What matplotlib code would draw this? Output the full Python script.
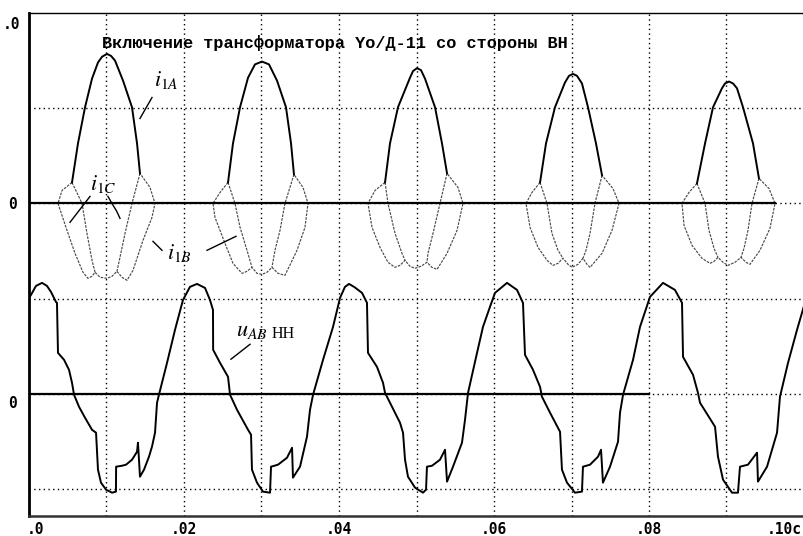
import matplotlib
matplotlib.use("Agg")
import matplotlib.pyplot as plt
from matplotlib.transforms import ScaledTranslation

plt.rcParams['mathtext.fontset'] = 'stix'

# ---------------- data (time in s, amplitude in grid divisions) ----------------
title_text = "Включение трансформатора Yо/Д-11 со стороны ВН"
x_ticks = [0.0, 0.02, 0.04, 0.06, 0.08, 0.10]
x_tick_labels = [".0", ".02", ".04", ".06", ".08", ".10c"]
y_ticks = [2.0, 0.0, -2.0]
y_tick_labels = [".0", "0", "0"]

# i1A : solid positive pulses
ia_t = [
    [0.00555, 0.00632, 0.00723, 0.00813, 0.00890, 0.00942, 0.01006, 0.01058, 0.01110, 0.01213, 0.01329, 0.01394, 0.01432],
    [0.02568, 0.02632, 0.02723, 0.02826, 0.02916, 0.03006, 0.03097, 0.03200, 0.03316, 0.03381, 0.03419],
    [0.04594, 0.04658, 0.04761, 0.04916, 0.04955, 0.05006, 0.05058, 0.05110, 0.05239, 0.05329, 0.05394],
    [0.06594, 0.06671, 0.06787, 0.06916, 0.06968, 0.07019, 0.07071, 0.07135, 0.07213, 0.07316, 0.07394],
    [0.08619, 0.08723, 0.08826, 0.08942, 0.08981, 0.09032, 0.09084, 0.09135, 0.09213, 0.09342, 0.09419],
]
ia_v = [
    [0.22, 0.63, 1.01, 1.31, 1.48, 1.54, 1.57, 1.55, 1.50, 1.29, 1.01, 0.63, 0.315],
    [0.22, 0.63, 1.01, 1.32, 1.46, 1.49, 1.46, 1.29, 1.01, 0.63, 0.304],
    [0.22, 0.63, 1.01, 1.32, 1.39, 1.42, 1.40, 1.31, 1.01, 0.63, 0.315],
    [0.22, 0.63, 1.01, 1.27, 1.34, 1.36, 1.34, 1.26, 1.01, 0.63, 0.294],
    [0.21, 0.63, 1.01, 1.21, 1.26, 1.28, 1.26, 1.21, 1.01, 0.63, 0.262],
]

# i1B : outer dotted envelope of each pulse
ib_t = [
    [0.00555, 0.00426, 0.00374, 0.00490, 0.00594, 0.00697, 0.00761, 0.00813, 0.00852, 0.00916, 0.01006,
     0.01071, 0.01135, 0.01200, 0.01265, 0.01342, 0.01471, 0.01587, 0.01626, 0.01561, 0.01432],
    [0.02568, 0.02465, 0.02374, 0.02400, 0.02529, 0.02632, 0.02748, 0.02813, 0.02877, 0.02942, 0.03006,
     0.03071, 0.03135, 0.03213, 0.03303, 0.03458, 0.03561, 0.03600, 0.03535, 0.03419],
    [0.04594, 0.04465, 0.04374, 0.04426, 0.04529, 0.04632, 0.04723, 0.04787, 0.04852, 0.04916, 0.04981,
     0.05058, 0.05135, 0.05200, 0.05265, 0.05394, 0.05523, 0.05600, 0.05535, 0.05394],
    [0.06594, 0.06490, 0.06413, 0.06465, 0.06568, 0.06684, 0.06761, 0.06826, 0.06890, 0.06955, 0.07006,
     0.07084, 0.07148, 0.07200, 0.07239, 0.07394, 0.07523, 0.07613, 0.07535, 0.07394],
    [0.08619, 0.08516, 0.08426, 0.08452, 0.08555, 0.08684, 0.08787, 0.08839, 0.08890, 0.08955, 0.09019,
     0.09110, 0.09187, 0.09252, 0.09303, 0.09432, 0.09561, 0.09626, 0.09548, 0.09419],
]
ib_v = [
    [0.220, 0.136, 0.0, -0.283, -0.525, -0.724, -0.787, -0.766, -0.724, -0.776, -0.787,
     -0.766, -0.714, -0.776, -0.808, -0.703, -0.388, -0.147, 0.0, 0.168, 0.315],
    [0.220, 0.115, 0.0, -0.147, -0.420, -0.630, -0.735, -0.714, -0.672, -0.735, -0.745,
     -0.724, -0.672, -0.735, -0.756, -0.493, -0.252, 0.0, 0.168, 0.304],
    [0.220, 0.136, 0.0, -0.252, -0.462, -0.619, -0.672, -0.651, -0.598, -0.661, -0.682,
     -0.661, -0.619, -0.672, -0.693, -0.525, -0.283, 0.0, 0.168, 0.315],
    [0.220, 0.115, 0.0, -0.252, -0.462, -0.598, -0.651, -0.630, -0.577, -0.640, -0.672,
     -0.640, -0.577, -0.640, -0.672, -0.525, -0.283, 0.0, 0.157, 0.294],
    [0.210, 0.115, 0.0, -0.231, -0.441, -0.577, -0.630, -0.609, -0.567, -0.619, -0.651,
     -0.619, -0.567, -0.619, -0.640, -0.493, -0.262, 0.0, 0.157, 0.262],
]

# i1C : inner dotted branches (left and right) of each pulse
icl_t = [
    [0.00555, 0.00684, 0.00748, 0.00813, 0.00852],
    [0.02568, 0.02658, 0.02723, 0.02813, 0.02877],
    [0.04594, 0.04632, 0.04723, 0.04813, 0.04852],
    [0.06594, 0.06684, 0.06748, 0.06826, 0.06890],
    [0.08619, 0.08723, 0.08774, 0.08839, 0.08890],
]
icl_v = [
    [0.220, 0.0, -0.315, -0.598, -0.724],
    [0.220, 0.0, -0.252, -0.493, -0.672],
    [0.220, 0.0, -0.315, -0.525, -0.598],
    [0.220, 0.0, -0.315, -0.493, -0.577],
    [0.210, 0.0, -0.283, -0.472, -0.567],
]
icr_t = [
    [0.01432, 0.01329, 0.01239, 0.01174, 0.01135],
    [0.03419, 0.03303, 0.03239, 0.03174, 0.03135],
    [0.05394, 0.05303, 0.05213, 0.05148, 0.05135],
    [0.07394, 0.07303, 0.07239, 0.07187, 0.07148],
    [0.09419, 0.09329, 0.09277, 0.09226, 0.09187],
]
icr_v = [
    [0.315, 0.0, -0.315, -0.567, -0.714],
    [0.304, 0.0, -0.283, -0.493, -0.672],
    [0.315, 0.0, -0.315, -0.525, -0.619],
    [0.294, 0.0, -0.315, -0.493, -0.577],
    [0.262, 0.0, -0.283, -0.472, -0.567],
]

# u_AB (LV side) voltage
u_t = [0.0, 0.0, 0.00026, 0.00090, 0.00168, 0.00232, 0.00284, 0.00348, 0.00361, 0.00374, 0.00452, 0.00516,
       0.00555, 0.00581, 0.00645, 0.00723, 0.00813, 0.00865, 0.00890, 0.00929, 0.00994, 0.01071, 0.01122,
       0.01124, 0.01200, 0.01252, 0.01329, 0.01394, 0.01406, 0.01432, 0.01484, 0.01548, 0.01587, 0.01626,
       0.01652, 0.01677, 0.01781, 0.01884, 0.01987, 0.02077, 0.02168, 0.02271, 0.02335, 0.02374, 0.02376,
       0.02465, 0.02568, 0.02594, 0.02684, 0.02826, 0.02865, 0.02877, 0.02942, 0.03019, 0.03110, 0.03123,
       0.03213, 0.03329, 0.03394, 0.03406, 0.03497, 0.03587, 0.03626, 0.03665, 0.03794, 0.03923, 0.04013,
       0.04077, 0.04129, 0.04200, 0.04297, 0.04361, 0.04374, 0.04490, 0.04568, 0.04594, 0.04684, 0.04787,
       0.04826, 0.04852, 0.04890, 0.04981, 0.05084, 0.05123, 0.05135, 0.05200, 0.05303, 0.05368, 0.05394,
       0.05471, 0.05587, 0.05626, 0.05665, 0.05781, 0.05858, 0.05948, 0.06013, 0.06168, 0.06297, 0.06374,
       0.06400, 0.06503, 0.06594, 0.06619, 0.06723, 0.06852, 0.06877, 0.06942, 0.07045, 0.07135, 0.07148,
       0.07239, 0.07342, 0.07381, 0.07406, 0.07497, 0.07600, 0.07626, 0.07665, 0.07794, 0.07884, 0.08013,
       0.08181, 0.08335, 0.08426, 0.08439, 0.08568, 0.08632, 0.08658, 0.08852, 0.08890, 0.08955, 0.09071,
       0.09148, 0.09174, 0.09277, 0.09394, 0.09406, 0.09523, 0.09652, 0.09690, 0.09794, 0.09910, 0.10000]
u_v = [0.252, 1.007, 1.039, 1.133, 1.165, 1.133, 1.070, 0.965, 0.955, 0.430, 0.357, 0.252,
       0.115, -0.010, -0.136, -0.252, -0.378, -0.409, -0.797, -0.934, -1.007, -1.039, -1.028,
       -0.766, -0.756, -0.745, -0.693, -0.609, -0.514, -0.871, -0.797, -0.661, -0.556, -0.409,
       -0.094, -0.010, 0.325, 0.672, 0.986, 1.123, 1.154, 1.112, 0.986, 0.881, 0.462,
       0.325, 0.178, -0.010, -0.168, -0.378, -0.430, -0.797, -0.934, -1.028, -1.039, -0.766,
       -0.745, -0.672, -0.567, -0.881, -0.766, -0.451, -0.168, -0.010, 0.357, 0.703, 1.007,
       1.123, 1.154, 1.120, 1.060, 0.955, 0.430, 0.283, 0.115, 0.010, -0.136, -0.304,
       -0.409, -0.693, -0.871, -0.986, -1.039, -1.007, -0.766, -0.756, -0.693, -0.588, -0.923,
       -0.766, -0.514, -0.273, 0.010, 0.430, 0.703, 0.913, 1.060, 1.165, 1.091, 0.955,
       0.409, 0.252, 0.073, -0.031, -0.199, -0.399, -0.797, -0.934, -1.039, -1.028, -0.766,
       -0.745, -0.661, -0.588, -0.934, -0.766, -0.504, -0.199, -0.010, 0.357, 0.703, 1.018,
       1.165, 1.091, 0.955, 0.388, 0.199, 0.010, -0.094, -0.346, -0.661, -0.902, -1.039,
       -1.039, -0.766, -0.745, -0.619, -0.923, -0.766, -0.409, -0.031, 0.325, 0.672, 0.923]
u_ref_end = 0.08          # end of the drawn zero reference of the voltage trace

# ---------------- figure ----------------
W, H = 804, 536
fig = plt.figure(figsize=(W / 100, H / 100), dpi=100)
ax = fig.add_axes([29 / W, 20 / H, 775 / W, 503 / H])
ax.set_xlim(0, 0.1)
ax.set_ylim(-3.284, 2.0)
U_OFF = -2.0

dot = (0, (1.0, 2.4))
for xv in [0.01, 0.02, 0.03, 0.04, 0.05, 0.06, 0.07, 0.08, 0.09]:
    ax.axvline(xv, color='black', lw=1.0, ls=dot, zorder=1)
for yv in [1.0, 0.0, -1.0, -2.0, -3.0]:
    ax.axhline(yv, color='black', lw=1.0, ls=dot, zorder=1)

# zero references (solid)
ax.plot([0, max(max(t) for t in ib_t)], [0, 0], color='black', lw=1.6, zorder=3)
ax.plot([0, u_ref_end], [U_OFF, U_OFF], color='black', lw=1.6, zorder=3)

thin = dict(color='#4a4a4a', lw=0.85, ls=(0, (2.2, 1.0)), zorder=2)
for k in range(len(ia_t)):
    ax.plot(ib_t[k], ib_v[k], **thin)
    ax.plot(icl_t[k], icl_v[k], **thin)
    ax.plot(icr_t[k], icr_v[k], **thin)
    ax.plot(ia_t[k], ia_v[k], color='black', lw=1.4, zorder=4)

ax.plot(u_t, [v + U_OFF for v in u_v], color='black', lw=1.4, zorder=4)

# frame
ax.spines['right'].set_visible(False)
ax.spines['left'].set_linewidth(2.0)
ax.spines['bottom'].set_linewidth(1.8)
ax.spines['bottom'].set_color('#333333')
ax.spines['top'].set_linewidth(1.0)

tick_font = dict(family='DejaVu Sans Mono', weight='bold', size=10.5)
ax.set_xticks(x_ticks)
ax.set_xticklabels(x_tick_labels, **tick_font)
ax.set_yticks(y_ticks)
ax.set_yticklabels(y_tick_labels, **tick_font)
ax.tick_params(axis='both', length=0)
ax.tick_params(axis='x', pad=4)
ax.tick_params(axis='y', pad=9)
xl = ax.get_xticklabels()
xl[0].set_transform(xl[0].get_transform() + ScaledTranslation(0.06, 0, fig.dpi_scale_trans))
xl[-1].set_transform(xl[-1].get_transform() + ScaledTranslation(-0.20, 0, fig.dpi_scale_trans))
yl = ax.get_yticklabels()
yl[0].set_transform(yl[0].get_transform() + ScaledTranslation(0.04, -0.10, fig.dpi_scale_trans))
yl[2].set_transform(yl[2].get_transform() + ScaledTranslation(0, -0.08, fig.dpi_scale_trans))

# title inside the plot
ax.text(0.00942, 1.69, title_text, family='Liberation Mono', weight='bold', size=12.2,
        ha='left', va='center', zorder=5)

# curve labels
lab = dict(size=16, zorder=6)
ax.text(0.01768, 1.30, r'$i_{1A}$', ha='center', va='center', **lab)
ax.plot([0.01587, 0.01432], [1.112, 0.892], color='black', lw=1.0, zorder=6)

ax.text(0.00955, 0.20, r'$i_{1C}$', ha='center', va='center', **lab)
ax.plot([0.00787, 0.00529], [0.073, -0.199], color='black', lw=1.0, zorder=6)
ax.plot([0.01019, 0.01070, 0.01130, 0.01174], [0.073, 0.0, -0.08, -0.157], color='black', lw=1.0, zorder=6)

ax.text(0.01948, -0.525, r'$i_{1B}$', ha='center', va='center', **lab)
ax.plot([0.01600, 0.01716], [-0.399, -0.493], color='black', lw=1.0, zorder=6)
ax.plot([0.02297, 0.02671], [-0.493, -0.346], color='black', lw=1.0, zorder=6)

ax.text(0.02671, -1.396, r'$u_{AB}$', ha='left', va='baseline', **lab)
ax.text(0.03135, -1.417, 'НН', family='Liberation Serif', size=11.5, ha='left', va='baseline', zorder=6)
ax.plot([0.02852, 0.02606], [-1.480, -1.637], color='black', lw=1.0, zorder=6)

fig.savefig('out.png', dpi=100)
